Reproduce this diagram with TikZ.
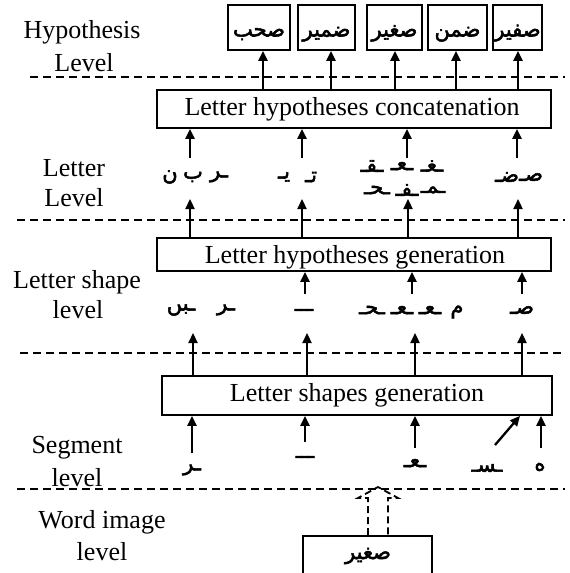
\documentclass[tikz,border=0pt]{standalone}
\usepackage{fontspec}
\setmainfont{Liberation Serif}
\newfontfamily\arabicfont[Script=Arabic,FakeBold=2.5]{DejaVu Sans}
\TeXXeTstate=1
\usetikzlibrary{arrows.meta}
\newcommand\artxt[1]{{\arabicfont\beginR #1\endR}}
\newcommand\wordtxt[1]{\raisebox{-5pt}{\artxt{#1}}}

\tikzset{
  lvl/.style={font=\fontsize{26}{30}\selectfont, align=center, inner sep=0pt},
  procbox/.style={draw, line width=1.8pt, inner sep=0pt},
  wordbox/.style={procbox, minimum height=45pt, text height=8pt, text depth=0pt, font=\fontsize{21}{21}\selectfont},
  glyph/.style={font=\fontsize{21}{21}\selectfont, inner sep=0pt},
  arr/.style={line width=2.3pt, -{Triangle[length=10pt,width=9pt]}},
  levelsep/.style={line width=1.5pt, dash pattern=on 8pt off 5pt},
  hollowarrow/.style={line width=1.8pt, dash pattern=on 7pt off 4pt, line join=miter}
}

\begin{document}
\begin{tikzpicture}[x=1pt, y=-1pt]
\useasboundingbox (0,0) rectangle (570,573);

% level names
\node[lvl] (hyp)  at (82,32)  {Hypothesis};
\node[lvl] (hypl) at (84,63)  {Level};
\node[lvl] (let)  at (74,168) {Letter};
\node[lvl] (letl) at (74,198) {Level};
\node[lvl] (shp)  at (77,282) {Letter shape};
\node[lvl] (shpl) at (78,310) {level};
\node[lvl] (seg)  at (77,448) {Segment};
\node[lvl] (segl) at (77,478) {level};
\node[lvl] (img)  at (102,522) {Word image};
\node[lvl] (imgl) at (102,552) {level};

% separators between the levels
\coordinate (s1a) at (30,77);  \coordinate (s1b) at (565,77);
\coordinate (s2a) at (17,220); \coordinate (s2b) at (565,220);
\coordinate (s3a) at (20,353); \coordinate (s3b) at (565,353);
\coordinate (s4a) at (17,489); \coordinate (s4b) at (565,489);
\draw[levelsep] (s1a) -- (s1b);
\draw[levelsep] (s2a) -- (s2b);
\draw[levelsep] (s3a) -- (s3b);
\draw[levelsep] (s4a) -- (s4b);

% word hypotheses
\node[wordbox, minimum width=62pt] (w1) at (259,27.5)   {\wordtxt{صحب}};
\node[wordbox, minimum width=57pt] (w2) at (326.5,27.5) {\wordtxt{ضمير}};
\node[wordbox, minimum width=55pt] (w3) at (394.5,27.5) {\wordtxt{صغير}};
\node[wordbox, minimum width=59pt] (w4) at (457.5,27.5) {\wordtxt{ضمن}};
\node[wordbox, minimum width=49pt] (w5) at (517.5,27.5) {\wordtxt{صفير}};

% processing boxes
\node[procbox, minimum width=394pt, minimum height=38pt] (concat) at (354,109) {};
\node[lvl] (concatt) at (352,109) {Letter hypotheses concatenation};
\node[procbox, minimum width=394pt, minimum height=33pt] (gen) at (354,254.5) {};
\node[lvl] (gent) at (355,257) {Letter hypotheses generation};
\node[procbox, minimum width=390pt, minimum height=39pt] (shapes) at (357,395.5) {};
\node[lvl] (shapest) at (357,395) {Letter shapes generation};

% concatenation -> words
\foreach \x/\w in {263/w1, 331/w2, 395/w3, 456/w4, 518/w5}
  \draw[arr] (concat.north -| \x,0) -- (\w.south -| \x,0);

% letter level glyphs
\node[glyph] (l1a) at (170,177) {\artxt{ن}};
\node[glyph] (l1b) at (193,177) {\artxt{ب}};
\node[glyph] (l1c) at (219,177) {\artxt{ـر}};
\node[glyph] (l2a) at (284,177) {\artxt{يـ}};
\node[glyph] (l2b) at (311,177) {\artxt{تـ}};
\node[glyph] (l3a) at (372,166) {\artxt{ـقـ}};
\node[glyph] (l3b) at (402,166) {\artxt{ـعـ}};
\node[glyph] (l3c) at (432,166) {\artxt{ـغـ}};
\node[glyph] (l3d) at (377,190) {\artxt{ـحـ}};
\node[glyph] (l3e) at (407,190) {\artxt{ـفـ}};
\node[glyph] (l3f) at (433,190) {\artxt{ـمـ}};
\node[glyph] (l4a) at (507,177) {\artxt{ضـ}};
\node[glyph] (l4b) at (531,177) {\artxt{صـ}};

\foreach \x in {190, 302, 407, 517}
  \draw[arr] (\x,158) -- (concat.south -| \x,0);
\foreach \x in {190, 302, 408, 518}
  \draw[arr] (gen.north -| \x,0) -- (\x,199);

% letter shape level glyphs
\node[glyph] (p1a) at (181,310) {\artxt{ـبں}};
\node[glyph] (p1b) at (226,310) {\artxt{ـر}};
\node[glyph] (p2)  at (304,310) {\artxt{ـــ}};
\node[glyph] (p3a) at (372,310) {\artxt{ـحـ}};
\node[glyph] (p3b) at (402,310) {\artxt{ـعـ}};
\node[glyph] (p3c) at (430,310) {\artxt{ـعـ}};
\node[glyph] (p3d) at (457,312) {\artxt{م}};
\node[glyph] (p4)  at (522,310) {\artxt{صـ}};

\foreach \x in {305, 412, 522}
  \draw[arr] (\x,294) -- (gen.south -| \x,0);
\foreach \x in {193, 307, 415, 522}
  \draw[arr] (shapes.north -| \x,0) -- (\x,333);

% segment level glyphs
\node[glyph] (g1) at (192,470) {\artxt{ـر}};
\node[glyph] (g2) at (305,457) {\artxt{ـــ}};
\node[glyph] (g3) at (415,463) {\artxt{ـعـ}};
\node[glyph] (g4) at (487,468) {\artxt{ـسـ}};
\node[glyph] (g5) at (540,467) {\artxt{ه}};

\draw[arr] (192,453) -- (shapes.south -| 192,0);
\draw[arr] (305,442) -- (shapes.south -| 305,0);
\draw[arr] (415,448) -- (shapes.south -| 415,0);
\coordinate (d1) at (495,445);
\draw[arr] (d1) -- (shapes.south -| 520,0);
\draw[arr] (541,448) -- (shapes.south -| 541,0);

% word image
\node[procbox, minimum width=129pt, minimum height=50pt, anchor=north] (word) at (367.5,535) {};
\node[font=\fontsize{21}{21}\selectfont, inner sep=0pt] (wordt) at (368,556) {\artxt{صغير}};
\draw[hollowarrow] (word.north -| 368,0) -- (368,498) -- (358,498) -- (378,487)
  -- (398,498) -- (388,498) -- (word.north -| 388,0);
\end{tikzpicture}
\end{document}
